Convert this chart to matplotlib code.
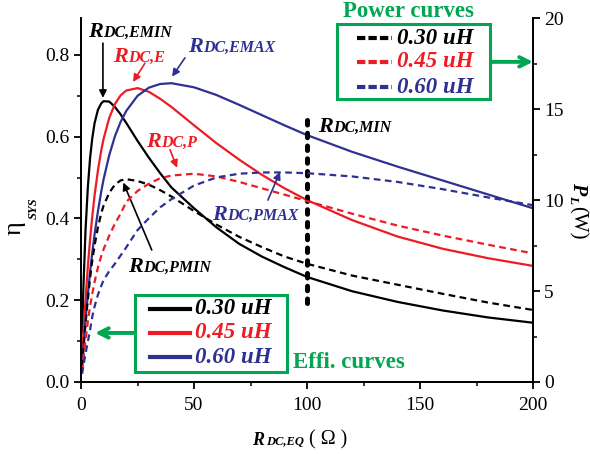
import matplotlib
matplotlib.use("Agg")
import matplotlib.pyplot as plt
from matplotlib import transforms
from matplotlib.patches import Rectangle
from matplotlib.ticker import MultipleLocator, FormatStrFormatter

# ---- values ----
r_dc = [0.5, 1, 2, 3, 4, 5, 6, 7.5, 9, 10, 12.5, 15, 17.5, 20, 25, 30, 35, 40,
        50, 60, 70, 80, 90, 100, 120, 140, 160, 180, 200]

# efficiency (left axis)
eta_030 = [0.121, 0.221, 0.371, 0.474, 0.547, 0.597, 0.633, 0.666, 0.682, 0.687,
           0.686, 0.673, 0.655, 0.634, 0.590, 0.549, 0.511, 0.476, 0.425, 0.378,
           0.338, 0.307, 0.281, 0.257, 0.222, 0.196, 0.175, 0.158, 0.145]
eta_045 = [0.056, 0.115, 0.201, 0.280, 0.348, 0.406, 0.456, 0.518, 0.568, 0.595,
           0.646, 0.680, 0.701, 0.713, 0.719, 0.710, 0.693, 0.673, 0.628, 0.584,
           0.544, 0.507, 0.474, 0.445, 0.396, 0.356, 0.326, 0.303, 0.284]
eta_060 = [0.041, 0.080, 0.150, 0.212, 0.268, 0.317, 0.361, 0.418, 0.467, 0.496,
           0.555, 0.601, 0.636, 0.663, 0.700, 0.720, 0.729, 0.731, 0.721, 0.702,
           0.678, 0.653, 0.628, 0.604, 0.563, 0.527, 0.493, 0.459, 0.425]

# output power in W (right axis)
p_030 = [0.9, 1.7, 3.2, 4.5, 5.7, 6.7, 7.5, 8.5, 9.3, 9.7, 10.4, 10.85, 11.08,
         11.15, 11.05, 10.85, 10.55, 10.2, 9.4, 8.65, 7.98, 7.42, 6.9, 6.5,
         5.85, 5.35, 4.85, 4.37, 3.96]
p_045 = [0.6, 1.2, 2.3, 3.3, 4.15, 4.85, 5.5, 6.3, 6.95, 7.3, 8.05, 8.7, 9.25,
         9.9, 10.5, 10.9, 11.2, 11.35, 11.45, 11.3, 11.0, 10.65, 10.3, 9.95,
         9.25, 8.6, 8.05, 7.55, 7.07]
p_060 = [0.45, 0.85, 1.55, 2.2, 2.85, 3.6, 4.15, 4.8, 5.3, 5.6, 6.1, 6.5, 6.95,
         7.4, 8.35, 9.0, 9.6, 10.05, 10.8, 11.25, 11.45, 11.52, 11.52, 11.48,
         11.3, 11.0, 10.6, 10.15, 9.72]

rmin_x = [100, 100]
rmin_eta = [0.193, 0.649]

inductances = ['0.30 uH', '0.45 uH', '0.60 uH']
colors = ['#000000', '#ED1C24', '#2E3192']
green = '#00A651'

plt.rcParams['font.family'] = ['Liberation Serif', 'DejaVu Serif']
BI = dict(fontweight='bold', fontstyle='italic')

fig = plt.figure(figsize=(5.9, 4.54), dpi=100)
ax = fig.add_axes([81 / 590, 1 - 382 / 454, 452 / 590, 363.8 / 454])
ax2 = ax.twinx()

for eta, c in zip([eta_030, eta_045, eta_060], colors):
    ax.plot(r_dc, eta, color=c, lw=1.6)
for p, c in zip([p_030, p_045, p_060], colors):
    ax2.plot(r_dc, p, color=c, lw=1.6, ls=(0, (3, 2)))
ax.plot(rmin_x, rmin_eta, color='k', lw=3.6, ls=(0, (0.9, 1.65)),
        dash_capstyle='round')

ax.set_xlim(0, 200)
ax.set_ylim(0, 0.89)
ax2.set_ylim(0, 20)

ax.xaxis.set_major_locator(MultipleLocator(50))
ax.xaxis.set_minor_locator(MultipleLocator(25))
ax.yaxis.set_major_locator(MultipleLocator(0.2))
ax.yaxis.set_minor_locator(MultipleLocator(0.1))
ax.yaxis.set_major_formatter(FormatStrFormatter('%.1f'))
ax2.yaxis.set_major_locator(MultipleLocator(5))
ax2.yaxis.set_minor_locator(MultipleLocator(2.5))

for a in (ax, ax2):
    a.spines['top'].set_visible(False)
    for s in a.spines.values():
        s.set_linewidth(1.3)
    a.tick_params(which='major', direction='out', length=5, width=1.3,
                  labelsize=14, pad=3)
    a.tick_params(which='minor', direction='out', length=3, width=1.1)
ax.tick_params(axis='x', pad=6)


def rich(a, x, y, parts, rot=0, base=None):
    """parts: (text, size, props, gap_px, drop_px)"""
    base = a.transData if base is None else base
    rend = fig.canvas.get_renderer()
    shift = 0.0
    for s, size, props, gap, drop in parts:
        if rot == 0:
            tr = transforms.offset_copy(base, fig=fig, x=shift, y=-drop, units='dots')
        elif rot == 90:
            tr = transforms.offset_copy(base, fig=fig, x=drop, y=shift, units='dots')
        else:
            tr = transforms.offset_copy(base, fig=fig, x=-drop, y=-shift, units='dots')
        t = a.text(x, y, s, transform=tr, fontsize=size, rotation=rot,
                   rotation_mode='anchor', ha='left', va='baseline',
                   clip_on=False, **props)
        bb = t.get_window_extent(rend)
        shift += (bb.width if rot == 0 else bb.height) + gap


def rlabel(x, y, sub, color):
    rich(ax, x, y, [('R', 16, dict(color=color, **BI), 0, 0),
                    ('DC,' + sub, 11.5, dict(color=color, **BI), 0, 0)])


def arrow(tail, tip, color):
    ax.annotate('', xy=tip, xytext=tail,
                arrowprops=dict(arrowstyle='-|>', color=color, lw=1.2,
                                mutation_scale=11, shrinkA=0, shrinkB=0))


rlabel(3.1, 0.844, 'EMIN', colors[0])
arrow((9.7, 0.829), (9.7, 0.695), colors[0])
rlabel(14.2, 0.783, 'E', colors[1])
arrow((28.3, 0.780), (23.0, 0.734), colors[1])
rlabel(47.3, 0.807, 'EMAX', colors[2])
arrow((46.0, 0.793), (40.3, 0.747), colors[2])
rlabel(28.8, 0.575, 'P', colors[1])
arrow((39.4, 0.568), (42.5, 0.524), colors[1])
rlabel(58.0, 0.396, 'PMAX', colors[2])
arrow((82.7, 0.445), (88.1, 0.514), colors[2])
rlabel(20.8, 0.269, 'PMIN', colors[0])
arrow((31.3, 0.323), (18.7, 0.488), colors[0])
rlabel(104.9, 0.612, 'MIN', colors[0])


# hand-made legend boxes (axes fraction positions)
def legend_box(x0, y0, w, h, hx0, hx1, rows, tx, dashed):
    ax2.add_patch(Rectangle((x0, y0), w, h, transform=ax2.transAxes,
                            facecolor='white', edgecolor=green, lw=2.2,
                            zorder=5, clip_on=False))
    for yy, c, lab in zip(rows, colors, inductances):
        ls = (0, (2, 0.75)) if dashed else '-'
        ax2.plot([hx0, hx1], [yy, yy], transform=ax2.transAxes, color=c,
                 lw=3.0, ls=ls, zorder=6, clip_on=False)
        ax2.text(tx, yy, lab, transform=ax2.transAxes, color=c, fontsize=16.5,
                 va='center', zorder=6, **BI)


legend_box(0.1195, 0.0275, 0.336, 0.2117, 0.1527, 0.2412,
           [0.2007, 0.1347, 0.0687], 0.2522, False)
legend_box(0.5657, 0.7771, 0.3392, 0.207, 0.61, 0.6874,
           [0.9448, 0.8804, 0.8101], 0.6998, True)

ax.annotate('', xy=(6.2, 0.12), xytext=(23.9, 0.12),
            arrowprops=dict(arrowstyle='->', color=green, lw=2.8,
                            mutation_scale=17, shrinkA=0, shrinkB=0))
ax2.annotate('', xy=(200, 17.6), xytext=(181, 17.6), annotation_clip=False,
             arrowprops=dict(arrowstyle='->', color=green, lw=2.8,
                             mutation_scale=17, shrinkA=0, shrinkB=0))
ax.text(93.8, 0.0465, 'Effi. curves', color=green, fontsize=16.5,
        fontweight='bold', va='center')
ax.text(115.9, 0.906, 'Power curves', color=green, fontsize=16.5,
        fontweight='bold', va='center', clip_on=False)

# axis labels
rich(ax, 75.7, -0.154, [('R', 13, BI, 2, 0), ('DC,EQ', 9, BI, 5, 0),
                        ('( \u03a9 )', 14.5, {}, 0, 0)])
rich(ax, -0.133, 0.404, [('\u03b7', 19, {}, 2, 0), ('SYS', 9, BI, 0, 16)],
     rot=90, base=ax.transAxes)
rich(ax, 1.088, 0.549, [('P', 14.5, BI, 0, 0), ('L', 9.5, BI, 3, 3),
                        ('(W)', 15, {}, 0, 0)], rot=-90, base=ax.transAxes)

fig.savefig('out.png', dpi=100)
